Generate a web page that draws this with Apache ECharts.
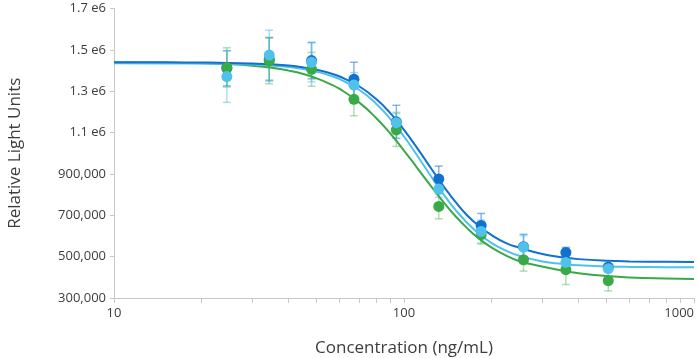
<!DOCTYPE html>
<html><head><meta charset="utf-8">
<script src="https://cdn.jsdelivr.net/npm/echarts@6/dist/echarts.min.js"></script>
<style>html,body{margin:0;padding:0;background:#fff}#c{width:698px;height:358px}</style>
</head><body><div id="c"></div>
<script>
// ---- data ----
const concentrations = [24.5, 34.3, 48.0, 67.2, 94.1, 131.8, 184.5, 258.3, 361.6, 506.2];
const blueValues  = [1411000, 1455000, 1448000, 1358000, 1152000, 876000, 651000, 548000, 520000, 450000];
const blueErrors  = [85000, 105000, 88000, 82000, 80000, 62000, 58000, 60000, 25000, 15000];
const cyanValues  = [1371000, 1475000, 1440000, 1330000, 1148000, 827000, 622000, 546000, 472000, 442000];
const cyanErrors  = [125000, 120000, 95000, 60000, 50000, 40000, 55000, 55000, 20000, 15000];
const greenValues = [1415000, 1446000, 1406000, 1261000, 1113000, 743000, 606000, 485000, 437000, 384000];
const greenErrors = [95000, 110000, 82000, 80000, 80000, 60000, 45000, 55000, 72000, 50000];

const curveX     = [10,15,20,25,30,35,40,45,50,55,60,70,80,90,100,110,120,130,140,150,165,180,200,225,250,300,350,400,500,600,800,1000];
const blueCurve  = [1440000,1439600,1438700,1437000,1434000,1430000,1424000,1415000,1403500,1389000,1371000,1324000,1263000,1192000,1113000,1033000,956000,885000,822000,767000,700000,652000,605000,565000,543000,513000,497000,488000,480000,477000,475000,474000];
const cyanCurve  = [1435000,1434500,1433600,1431700,1428600,1423800,1416700,1407000,1394000,1378000,1358000,1307000,1241000,1164000,1081000,997600,918000,846000,783000,729000,664000,615000,567000,529000,504000,477000,465000,458000,452500,450300,449000,448300];
const greenCurve = [1439400,1438000,1435200,1430300,1423000,1413000,1399600,1383000,1362000,1338000,1311000,1246000,1172000,1093000,1013000,937000,866000,803000,747000,698000,638000,591000,545000,505000,478000,452000,433000,420000,406000,399000,394000,392000];

const yTicks      = [300000, 500000, 700000, 900000, 1100000, 1300000, 1500000, 1700000];
const yTickLabels = ['300,000', '500,000', '700,000', '900,000', '1.1 e6', '1.3 e6', '1.5 e6', '1.7 e6'];
const xTickLabels = {10: '10', 100: '100', 1000: '1000'};

// ---- chart ----
const FONT = 'Open Sans';
const C_BLUE = '#1270cf', C_CYAN = '#4fc1ea', C_GREEN = '#3aa948';
const E_BLUE = 'rgba(18,112,207,0.5)', E_CYAN = 'rgba(79,193,234,0.5)', E_GREEN = 'rgba(58,169,72,0.4)';

function errorSeries(vals, errs, color) {
  return {
    type: 'custom', z: 1, silent: true,
    renderItem: function (params, api) {
      const x = api.value(0), lo = api.value(1), hi = api.value(2);
      const p1 = api.coord([x, lo]), p2 = api.coord([x, hi]);
      const w = 4;
      const st = {stroke: color, lineWidth: 1.5};
      return {type: 'group', children: [
        {type: 'line', shape: {x1: p1[0], y1: p1[1], x2: p2[0], y2: p2[1]}, style: st},
        {type: 'line', shape: {x1: p1[0] - w, y1: p1[1], x2: p1[0] + w, y2: p1[1]}, style: st},
        {type: 'line', shape: {x1: p2[0] - w, y1: p2[1], x2: p2[0] + w, y2: p2[1]}, style: st}
      ]};
    },
    encode: {x: 0, y: [1, 2]},
    data: concentrations.map((c, i) => [c, vals[i] - errs[i], vals[i] + errs[i]])
  };
}
function curveSeries(vals, color) {
  return {type: 'line', z: 2, smooth: true, showSymbol: false, silent: true,
    lineStyle: {color: color, width: 2}, data: curveX.map((x, i) => [x, vals[i]])};
}
function pointSeries(vals, color) {
  return {type: 'scatter', z: 3, symbolSize: 11, silent: true,
    itemStyle: {color: color, opacity: 1}, data: concentrations.map((x, i) => [x, vals[i]])};
}

const chart = echarts.init(document.getElementById('c'), null, {renderer: 'canvas'});
chart.setOption({
  animation: false,
  grid: {left: 114, right: 4, top: 8.5, bottom: 60, containLabel: false, outerBoundsMode: 'none'},
  xAxis: {
    type: 'log', logBase: 10, min: 10, max: 1000,
    name: 'Concentration (ng/mL)', nameLocation: 'middle', nameGap: 42,
    nameTextStyle: {fontFamily: FONT, fontSize: 17, color: '#3d3d3d'},
    axisLine: {lineStyle: {color: '#c8c8c8', width: 1}},
    axisTick: {show: true, length: 5, lineStyle: {color: '#c8c8c8'}},
    minorTick: {show: true, splitNumber: 9, length: 5, lineStyle: {color: '#c8c8c8'}},
    splitLine: {show: false}, minorSplitLine: {show: false},
    axisLabel: {fontFamily: FONT, fontSize: 13, color: '#3d3d3d', margin: 9, alignMaxLabel: 'right',
      formatter: v => xTickLabels[Math.round(v)] || ''}
  },
  yAxis: {
    type: 'value', min: yTicks[0], max: yTicks[yTicks.length - 1], interval: 200000,
    name: 'Relative Light Units', nameLocation: 'middle', nameGap: 90, nameRotate: 90,
    nameTextStyle: {fontFamily: FONT, fontSize: 17, color: '#3d3d3d'},
    axisLine: {show: true, lineStyle: {color: '#c8c8c8', width: 1}},
    axisTick: {show: true, length: 4, lineStyle: {color: '#c8c8c8'}},
    splitLine: {show: false},
    axisLabel: {fontFamily: FONT, fontSize: 13, color: '#3d3d3d', margin: 8,
      formatter: v => { const i = yTicks.indexOf(v); return i >= 0 ? yTickLabels[i] : ''; }}
  },
  series: [
    errorSeries(blueValues, blueErrors, E_BLUE),
    errorSeries(greenValues, greenErrors, E_GREEN),
    errorSeries(cyanValues, cyanErrors, E_CYAN),
    curveSeries(greenCurve, C_GREEN),
    curveSeries(cyanCurve, C_CYAN),
    curveSeries(blueCurve, C_BLUE),
    pointSeries(blueValues, C_BLUE),
    pointSeries(greenValues, C_GREEN),
    pointSeries(cyanValues, C_CYAN)
  ]
});
</script>
</body></html>
